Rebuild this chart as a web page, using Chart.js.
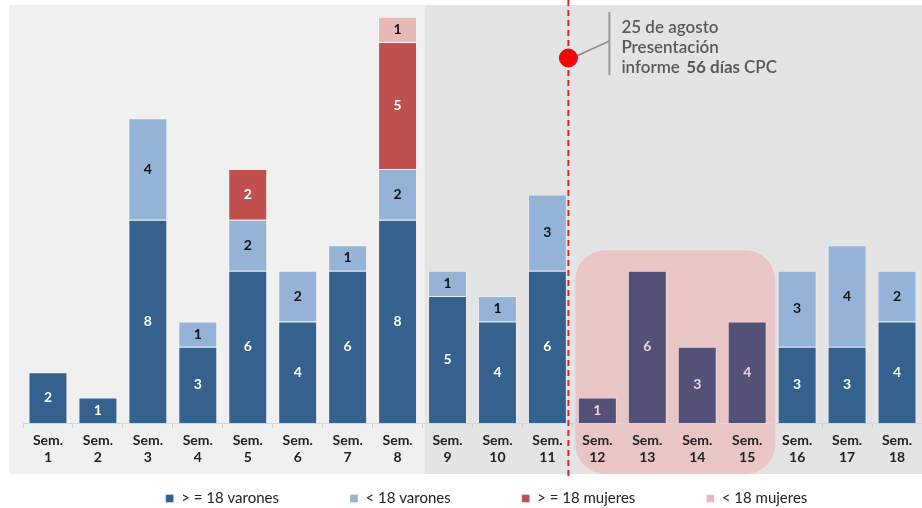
<!DOCTYPE html>
<html><head><meta charset="utf-8">
<script src="https://cdn.jsdelivr.net/npm/chart.js@4.4.0/dist/chart.umd.min.js"></script>
<style>html,body{margin:0;padding:0;background:#fff;}#wrap{width:922px;height:508px;position:relative;}</style>
</head><body><div id="wrap"><canvas id="c" width="922" height="508"></canvas></div>
<script>
const categories = [["Sem.","1"],["Sem.","2"],["Sem.","3"],["Sem.","4"],["Sem.","5"],["Sem.","6"],["Sem.","7"],["Sem.","8"],["Sem.","9"],["Sem.","10"],["Sem.","11"],["Sem.","12"],["Sem.","13"],["Sem.","14"],["Sem.","15"],["Sem.","16"],["Sem.","17"],["Sem.","18"]];
const varones18 = [2,1,8,3,6,4,6,8,5,4,6,1,6,3,4,3,3,4];
const varonesMenor = [0,0,4,1,2,2,1,2,1,1,3,0,0,0,0,3,4,2];
const mujeres18 = [0,0,0,0,2,0,0,5,0,0,0,0,0,0,0,0,0,0];
const mujeresMenor = [0,0,0,0,0,0,0,1,0,0,0,0,0,0,0,0,0,0];
const seriesNames = ["> = 18 varones","< 18 varones","> = 18 mujeres","< 18 mujeres"];
const highlighted = [11,12,13,14];
const annotationLines = ["25 de agosto","Presentación"];

const FONT = "Lato, 'Open Sans', sans-serif";
const cDark = '#35618f', cLight = '#95b3d7', cRed = '#c0504d', cPink = '#e6b9b8', cPurple = '#535178';

const darkColors = varones18.map((v,i)=> highlighted.includes(i) ? cPurple : cDark);

const legendFix = {
  id:'legendFix',
  beforeLayout(chart){
    const lg = chart.legend;
    if(!lg || lg._patched) return;
    lg._patched = true;
    const fit = lg.fit.bind(lg);
    lg.fit = function(){ fit(); this.height = 42; if(this._minSize) this._minSize.height = 42; };
    const inner = lg._draw.bind(lg);
    lg._draw = function(){
      const c = this.ctx; c.save();
      c.translate(14, 498 - (this.top + this.options.labels.padding + 7));
      inner(); c.restore();
    };
  }
};

const bgPlugin = {
  id:'bg',
  beforeDraw(chart){
    const ctx = chart.ctx, x = chart.scales.x;
    const step = x.getPixelForValue(1) - x.getPixelForValue(0);
    const split = x.getPixelForValue(7) + step/2 + 2;
    const top = 5, bottom = 474;
    ctx.save();
    ctx.fillStyle = '#f0f0f0';
    ctx.fillRect(9, top, split-9, bottom-top);
    ctx.fillStyle = '#e4e4e4';
    ctx.fillRect(split, top, chart.width-split, bottom-top);
    const px0 = x.getPixelForValue(11) - step/2 + 3;
    const px1 = x.getPixelForValue(14) + step/2 + 3;
    const py0 = chart.scales.y.getPixelForValue(6.8);
    ctx.fillStyle = '#e9c5c5';
    ctx.beginPath();
    ctx.roundRect(px0, py0, px1-px0, bottom-py0, 30);
    ctx.fill();
    ctx.restore();
  },
  afterDatasetsDraw(chart){
    const ctx = chart.ctx;
    chart.data.datasets.forEach((ds, di)=>{
      const meta = chart.getDatasetMeta(di);
      meta.data.forEach((bar, i)=>{
        const v = ds.data[i];
        if(!v) return;
        const yc = (bar.y + bar.base)/2;
        let col;
        if(di===0) col = highlighted.includes(i) ? '#f2d4d4' : '#ffffff';
        else if(di===2) col = '#ffffff';
        else col = '#111111';
        ctx.save();
        ctx.font = "bold 14px " + FONT;
        ctx.fillStyle = col;
        ctx.textAlign = 'center';
        ctx.textBaseline = 'middle';
        ctx.fillText(String(v), bar.x, yc);
        ctx.restore();
      });
    });
    const x = chart.scales.x;
    const step = x.getPixelForValue(1) - x.getPixelForValue(0);
    const lx = x.getPixelForValue(10) + step/2 - 4;
    ctx.save();
    ctx.strokeStyle = '#d9262b';
    ctx.lineWidth = 2;
    ctx.setLineDash([6,4]);
    ctx.beginPath();
    ctx.moveTo(lx, 0); ctx.lineTo(lx, 480);
    ctx.stroke();
    ctx.setLineDash([]);
    ctx.strokeStyle = '#8a8a8a';
    ctx.lineWidth = 1.5;
    ctx.beginPath();
    ctx.moveTo(lx+6, 57); ctx.lineTo(lx+41, 41);
    ctx.stroke();
    ctx.strokeStyle = '#9a9a9a';
    ctx.lineWidth = 2;
    ctx.beginPath();
    ctx.moveTo(lx+41, 12); ctx.lineTo(lx+41, 75);
    ctx.stroke();
    ctx.fillStyle = '#ff0000';
    ctx.strokeStyle = '#cc1111';
    ctx.lineWidth = 1;
    ctx.beginPath();
    ctx.arc(lx, 58, 9, 0, Math.PI*2);
    ctx.fill(); ctx.stroke();
    const tx = lx + 53;
    ctx.fillStyle = '#595959';
    ctx.textAlign = 'left';
    ctx.textBaseline = 'alphabetic';
    ctx.font = "600 17px " + FONT;
    ctx.fillText(annotationLines[0], tx, 33);
    ctx.fillText(annotationLines[1], tx, 53);
    let cx = tx;
    ctx.fillText("informe ", cx, 73); cx += ctx.measureText("informe ").width + 2;
    ctx.font = "bold 17px " + FONT;
    ctx.fillText("56 días", cx, 73); cx += ctx.measureText("56 días").width + 4;
    ctx.font = "600 17px " + FONT;
    ctx.fillText("CPC", cx, 73);
    ctx.restore();
  }
};

new Chart(document.getElementById('c'), {
  type:'bar',
  data:{
    labels: categories,
    datasets:[
      {label: seriesNames[0], data: varones18, backgroundColor: darkColors, borderColor:'rgba(255,255,255,0.35)', borderWidth:1},
      {label: seriesNames[1], data: varonesMenor, backgroundColor: cLight, borderColor:'rgba(255,255,255,0.35)', borderWidth:1},
      {label: seriesNames[2], data: mujeres18, backgroundColor: cRed, borderColor:'rgba(255,255,255,0.35)', borderWidth:1},
      {label: seriesNames[3], data: mujeresMenor, backgroundColor: cPink, borderColor:'rgba(255,255,255,0.35)', borderWidth:1}
    ]
  },
  options:{
    responsive:false,
    animation:false,
    devicePixelRatio:1,
    layout:{padding:{left:23, right:0, top:4, bottom:0}},
    datasets:{bar:{categoryPercentage:0.78, barPercentage:1}},
    scales:{
      x:{stacked:true,
        grid:{display:true, drawOnChartArea:false, drawTicks:true, tickLength:5, color:'#cfcfcf', offset:true},
        border:{display:true, color:'#d6d6d6'},
        ticks:{font:{family:FONT, size:14, weight:'bold', lineHeight:1.2}, color:'#222', padding:4, maxRotation:0, autoSkip:false},
        afterFit(s){ s.height = 43; }
      },
      y:{stacked:true, display:false, min:0, max:16.5}
    },
    plugins:{
      legend:{position:'bottom', labels:{boxWidth:8, boxHeight:8, padding:71, font:{family:FONT, size:15}, color:'#222'}},
      tooltip:{enabled:false}
    }
  },
  plugins:[legendFix, bgPlugin]
});
</script></body></html>
